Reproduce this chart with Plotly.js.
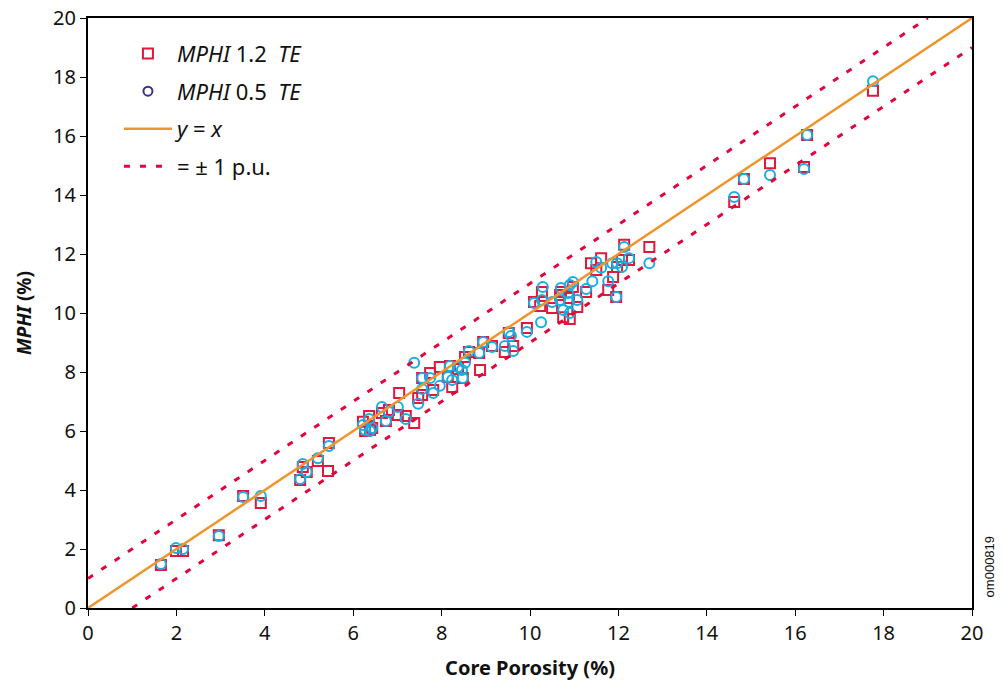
<!DOCTYPE html>
<html>
<head>
<meta charset="utf-8">
<script src="https://cdn.plot.ly/plotly-3.0.1.min.js"></script>
<style>html,body{margin:0;padding:0;background:#fff;}#chart{width:1004px;height:683px;}</style>
</head>
<body>
<div id="chart"></div>
<script>
// Core porosity (%) of each sample
const corePorosity = [1.65,1.99,2.15,2.96,3.51,3.91,4.80,4.86,4.95,5.20,5.43,5.45,6.22,6.27,6.36,6.38,6.43,6.65,6.74,6.81,7.01,7.19,7.38,7.38,7.04,7.47,7.56,7.56,7.74,7.81,7.96,7.96,8.19,8.24,8.14,8.37,8.48,8.46,8.53,8.62,8.87,8.85,8.94,9.14,9.43,9.62,9.52,9.57,9.93,10.25,10.09,10.23,10.27,10.29,10.50,10.68,10.70,10.75,10.86,10.88,10.90,10.97,10.90,11.07,11.27,11.41,11.38,11.50,11.61,11.77,11.88,11.86,11.97,11.95,12.08,12.13,12.24,12.70,14.62,14.84,15.43,16.20,16.27,17.76];
// MPHI with 1.2 ms TE (%)
const mphi12 = [1.46,1.93,1.93,2.47,3.80,3.56,4.34,4.78,4.61,4.98,4.64,5.59,6.31,6.00,6.51,6.03,6.10,6.61,6.34,6.71,6.54,6.51,6.27,null,7.29,7.12,7.22,7.80,7.97,7.39,8.17,null,8.20,7.49,7.83,8.10,7.80,null,8.51,8.68,8.07,8.64,9.02,8.88,8.68,8.88,9.32,null,9.49,null,10.37,10.24,10.71,null,10.17,10.61,10.71,9.86,null,10.51,9.80,10.88,null,10.20,10.71,null,11.69,11.46,11.86,10.78,11.22,null,11.56,10.54,11.80,12.31,11.80,12.24,13.76,14.54,15.08,14.95,16.03,17.53];
// MPHI with 0.5 ms TE (%)
const mphi05 = [1.49,2.03,2.00,2.44,3.76,3.80,4.37,4.88,4.61,5.08,null,5.49,6.20,6.03,6.41,6.00,6.10,6.81,6.34,6.64,6.81,6.41,null,8.31,null,6.92,7.42,7.80,7.80,7.29,null,7.53,8.20,7.73,7.83,8.17,7.80,8.07,8.31,8.71,null,8.64,9.02,8.85,8.88,8.71,9.36,9.22,9.36,9.69,10.34,null,10.44,10.88,10.37,10.44,10.85,10.10,10.68,10.37,10.00,11.05,10.95,10.44,10.81,11.08,null,11.73,11.53,11.08,null,11.69,11.69,10.54,11.56,12.24,11.86,11.69,13.93,14.54,14.68,14.88,16.03,17.86];
// reference lines
const identityX = [0, 20];
const upperX = [0, 19];
const lowerX = [1, 20];
const puOffset = 1;

const red = '#e3173c';
const cyan = '#17aee6';
const orange = '#f0952e';
const dashRed = '#e2053c';
const navy = '#3a2f8c';

const traces = [
  {x: corePorosity, y: mphi12, type: 'scatter', mode: 'markers', name: '<i>MPHI</i> 1.2  <i>TE</i>', legendgroup: 'a',
   marker: {symbol: 'square-open', size: 10, color: red, line: {width: 2, color: red}}},
  {x: corePorosity, y: mphi05, type: 'scatter', mode: 'markers', showlegend: false,
   marker: {symbol: 'circle-open', size: 10, color: cyan, line: {width: 2, color: cyan}}},
  {x: [null], y: [null], type: 'scatter', mode: 'markers', name: '<i>MPHI</i> 0.5  <i>TE</i>', legendgroup: 'b',
   marker: {symbol: 'circle-open', size: 9, color: navy, line: {width: 2, color: navy}}},
  {x: identityX, y: identityX, type: 'scatter', mode: 'lines', name: '<i>y</i> = <i>x</i>', legendgroup: 'c',
   line: {color: orange, width: 2.5}},
  {x: upperX, y: upperX.map(v => v + puOffset), type: 'scatter', mode: 'lines', name: '= ± 1 p.u.', legendgroup: 'd',
   line: {color: dashRed, width: 3, dash: '6px,10px'}},
  {x: lowerX, y: lowerX.map(v => v - puOffset), type: 'scatter', mode: 'lines', showlegend: false, legendgroup: 'd',
   line: {color: dashRed, width: 3, dash: '6px,10px'}}
];

const tickFontY = {family: 'Noto Sans, DejaVu Sans, sans-serif', size: 20, color: '#111'};
const tickFontX = {family: 'Noto Sans, DejaVu Sans, sans-serif', size: 20, color: '#111'};

const layout = {
  width: 1004, height: 683,
  margin: {l: 88, r: 32, t: 18, b: 75},
  paper_bgcolor: '#fff', plot_bgcolor: '#fff',
  showlegend: true,
  legend: {x: 0.035, y: 0.975, xanchor: 'left', yanchor: 'top', traceorder: 'grouped', tracegroupgap: 6,
           itemwidth: 48,
           bgcolor: 'rgba(0,0,0,0)', font: {family: 'Noto Sans, DejaVu Sans, sans-serif', size: 22, color: '#111'}},
  xaxis: {range: [0, 20], dtick: 2, tick0: 0, showgrid: false, zeroline: false,
          showline: true, linecolor: '#000', linewidth: 2, mirror: true,
          ticks: 'outside', ticklen: 6, tickwidth: 1, tickcolor: '#000', tickfont: tickFontX,
          title: {text: '<b>Core Porosity (%)</b>', font: {family: 'Noto Sans, DejaVu Sans, sans-serif', size: 20, color: '#111'}, standoff: 16}},
  yaxis: {range: [0, 20], dtick: 2, tick0: 0, showgrid: false, zeroline: false,
          showline: true, linecolor: '#000', linewidth: 2, mirror: true,
          ticks: 'outside', ticklen: 6, tickwidth: 1, tickcolor: '#000', tickfont: tickFontY,
          title: {text: '<b><i>MPHI</i> (%)</b>', font: {family: 'Noto Sans, DejaVu Sans, sans-serif', size: 19, color: '#111'}, standoff: 16}},
  annotations: [
    {text: 'om000819', xref: 'paper', yref: 'paper', x: 1.02, y: 0.07, xanchor: 'center', yanchor: 'middle',
     textangle: -90, showarrow: false, font: {family: 'Liberation Sans, Arial, sans-serif', size: 13, color: '#111'}}
  ]
};

Plotly.newPlot('chart', traces, layout, {displayModeBar: false, staticPlot: true});
</script>
</body>
</html>
